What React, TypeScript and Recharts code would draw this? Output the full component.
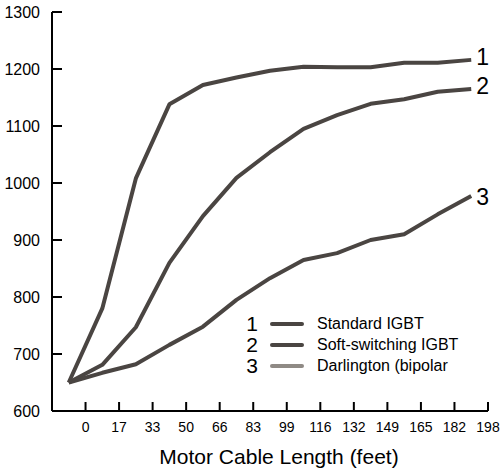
import React from "react";
import { LineChart, Line, XAxis, YAxis, LabelList } from "recharts";

// cable length (feet) at each measured point
const cableLength = [-8.25, 8.25, 24.75, 41.25, 57.75, 74.25, 90.75, 107.25, 123.75, 140.25, 156.75, 173.25, 189.75];

const standardIgbt = [650, 780, 1008, 1138, 1172, 1185, 1197, 1204, 1203, 1203, 1211, 1211, 1216];
const softSwitchingIgbt = [650, 681, 747, 860, 942, 1009, 1054, 1095, 1119, 1139, 1147, 1160, 1165];
const darlington = [650, 667, 682, 716, 748, 795, 833, 865, 877, 900, 910, 945, 977];

const xTicks = [0, 16.5, 33, 49.5, 66, 82.5, 99, 115.5, 132, 148.5, 165, 181.5, 198];
const yTicks = [600, 700, 800, 900, 1000, 1100, 1200, 1300];

const seriesKeys = ["s1", "s2", "s3"];
const seriesNumbers = ["1", "2", "3"];
const seriesNames = ["Standard IGBT", "Soft-switching IGBT", "Darlington (bipolar"];

const data = cableLength.map((x, i) => ({
  x,
  s1: standardIgbt[i],
  s2: softSwitchingIgbt[i],
  s3: darlington[i],
}));

const LINE = "#4a4542";
const legendColors = [LINE, LINE, "#8f8a85"];
const endLabelDy = [-3, -3, 1];

const SANS = '"Liberation Sans", Arial, Helvetica, sans-serif';

const lastIndex = data.length - 1;

function endLabel(num: string, dy: number) {
  return (props: any) => {
    if (props.index !== lastIndex) return null;
    return (
      <text
        x={Number(props.x) + 5}
        y={Number(props.y) + dy}
        dominantBaseline="central"
        fontFamily={SANS}
        fontSize={23}
        fill="#000"
      >
        {num}
      </text>
    );
  };
}

function LegendBox() {
  return (
    <div style={{ position: "absolute", left: 246, top: 313, fontFamily: SANS, color: "#000" }}>
      {seriesNames.map((name, i) => (
        <div key={name} style={{ display: "flex", alignItems: "center", height: 21 }}>
          <span style={{ width: 12, textAlign: "right", fontSize: 21, lineHeight: "21px" }}>{seriesNumbers[i]}</span>
          <span
            style={{
              display: "inline-block",
              width: 34,
              height: 4,
              marginLeft: 12,
              background: legendColors[i],
              borderRadius: 2,
            }}
          />
          <span style={{ marginLeft: 13, fontSize: 16, lineHeight: "21px", whiteSpace: "nowrap" }}>{name}</span>
        </div>
      ))}
    </div>
  );
}

export default function App() {
  return (
    <div style={{ position: "absolute", left: 0, top: 0, width: 502, height: 470 }}>
      <LineChart width={502} height={470} data={data} margin={{ top: 12, right: 14, left: 0, bottom: 0 }}>
        <XAxis
          type="number"
          dataKey="x"
          domain={[-16.5, 198]}
          ticks={xTicks}
          tickFormatter={(v: number) => String(Math.round(v))}
          allowDataOverflow
          height={59}
          tickSize={-9}
          tickMargin={20}
          axisLine={{ stroke: "#000", strokeWidth: 2 }}
          tickLine={{ stroke: "#000", strokeWidth: 2 }}
          tick={{ fill: "#000", fontSize: 14, fontFamily: SANS }}
          label={{
            content: (p: any) => {
              const vb = p.viewBox;
              return (
                <text
                  x={vb.x + vb.width / 2 + 9}
                  y={vb.y + vb.height - 6}
                  textAnchor="middle"
                  fontFamily={SANS}
                  fontSize={21}
                  fill="#000"
                >
                  Motor Cable Length (feet)
                </text>
              );
            },
          }}
        />
        <YAxis
          type="number"
          domain={[600, 1300]}
          ticks={yTicks}
          width={52}
          tickSize={-10}
          tickMargin={22}
          axisLine={{ stroke: "#000", strokeWidth: 2 }}
          tickLine={{ stroke: "#000", strokeWidth: 2 }}
          tick={{ fill: "#000", fontSize: 16, fontFamily: SANS }}
        />
        {seriesKeys.map((k, i) => (
          <Line
            key={k}
            dataKey={k}
            name={seriesNames[i]}
            stroke={LINE}
            strokeWidth={4}
            dot={false}
            strokeLinejoin="round"
            isAnimationActive={false}
          >
            <LabelList dataKey={k} content={endLabel(seriesNumbers[i], endLabelDy[i])} />
          </Line>
        ))}
      </LineChart>
      <LegendBox />
    </div>
  );
}
